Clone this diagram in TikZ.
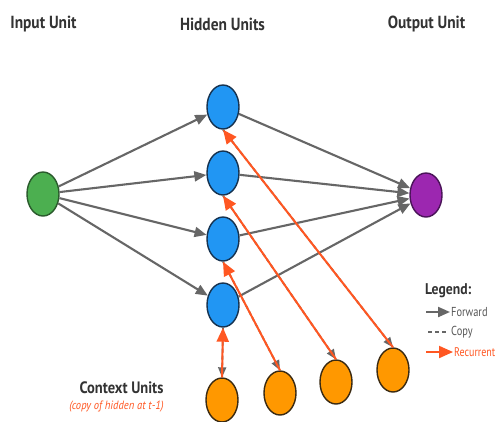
\documentclass[tikz,border=0pt]{standalone}
\usepackage{fontspec}
\setmainfont{PT Sans}[FakeStretch=0.88]
\newfontfamily\legendfont{PT Sans}[FakeStretch=0.8]
\usetikzlibrary{shapes.geometric,arrows.meta}

\definecolor{inGreen}{HTML}{4CAF50}
\definecolor{inGreenLine}{HTML}{2A5A2C}
\definecolor{hidBlue}{HTML}{2196F3}
\definecolor{hidBlueLine}{HTML}{16324F}
\definecolor{outPurple}{HTML}{9C27B0}
\definecolor{outPurpleLine}{HTML}{4A1458}
\definecolor{ctxOrange}{HTML}{FF9800}
\definecolor{ctxOrangeLine}{HTML}{3A2A12}
\definecolor{fwdGray}{HTML}{666666}
\definecolor{recOrange}{HTML}{FF5722}
\definecolor{titleInk}{HTML}{333333}

\tikzset{
  unit/.style={ellipse, line width=1.4pt, minimum width=32pt, minimum height=44pt, inner sep=0pt},
  inunit/.style={unit, fill=inGreen, draw=inGreenLine},
  hidunit/.style={unit, fill=hidBlue, draw=hidBlueLine},
  outunit/.style={unit, fill=outPurple, draw=outPurpleLine},
  ctxunit/.style={unit, fill=ctxOrange, draw=ctxOrangeLine},
  fwd/.style={draw=fwdGray, line width=2.1pt, -{Triangle[length=12pt,width=10pt]}, fill=fwdGray},
  copyline/.style={draw=fwdGray, line width=1.8pt, dash pattern=on 4pt off 3pt,
    -{Triangle[length=10pt,width=8pt]}, fill=fwdGray},
  rec/.style={draw=recOrange, line width=2pt, -{Triangle[length=14pt,width=12pt]}, fill=recOrange},
  header/.style={font=\bfseries\fontsize{17.5}{20}\selectfont, text=titleInk},
  legtext/.style={font=\legendfont\fontsize{13}{15}\selectfont, text=fwdGray!85!black, anchor=west, inner sep=0pt}
}

\begin{document}
\begin{tikzpicture}[x=1pt,y=-1pt]
  \useasboundingbox (0,0) rectangle (497,421);
  \fill[white] (0,0) rectangle (497,421);

  % column headings
  \node[header] (hIn)  at (43.5,24) {Input Unit};
  \node[header] (hHid) at (222.5,24) {Hidden Units};
  \node[header] (hOut) at (426.5,24) {Output Unit};

  % units
  \node[inunit] (x) at (43,194) {};
  \node[hidunit] (h1) at (223,107) {};
  \node[hidunit] (h2) at (223,173) {};
  \node[hidunit] (h3) at (223,239) {};
  \node[hidunit] (h4) at (223,305) {};
  \node[outunit] (y) at (426,195) {};
  \node[ctxunit] (c1) at (222,400) {};
  \node[ctxunit] (c2) at (280,393) {};
  \node[ctxunit] (c3) at (336,382) {};
  \node[ctxunit] (c4) at (393,370) {};

  % input -> hidden
  \foreach \h in {h1,h2,h3,h4} \draw[fwd] (x) -- (\h);
  % hidden -> output
  \foreach \h in {h1,h2,h3,h4} \draw[fwd] (\h) -- (y);

  % copy (hidden -> context) and recurrent (context -> hidden)
  \foreach \h/\c in {h4/c1,h3/c2,h2/c3,h1/c4} {
    \draw[copyline, xshift=-2.5pt] (\h.south) -- (\c.north);
  }
  \foreach \h/\c in {h4/c1,h3/c2,h2/c3,h1/c4} {
    \draw[rec, xshift=1.5pt] (\c.north) -- (\h.south);
  }

  % context label
  \node[font=\bfseries\fontsize{16.5}{19}\selectfont, text=titleInk] (ctxLabel) at (121.5,388) {Context Units};
  \node[font=\itshape\fontsize{12}{14}\selectfont, text=recOrange] (ctxNote) at (116.5,407) {(copy of hidden at t-1)};

  % legend
  \node[font=\bfseries\fontsize{15.5}{18}\selectfont, text=titleInk, anchor=west, inner sep=0pt] (legTitle) at (425,291) {Legend:};
  \coordinate (lf0) at (426,312); \coordinate (lf1) at (450,312);
  \coordinate (lc0) at (428,332); \coordinate (lc1) at (446,332);
  \coordinate (lr0) at (426,352); \coordinate (lr1) at (453,352);
  \draw[fwd] (lf0) -- (lf1);
  \draw[draw=fwdGray, line width=1.8pt, dash pattern=on 4pt off 3pt] (lc0) -- (lc1);
  \draw[rec] (lr0) -- (lr1);
  \node[legtext] (legF) at (451,312) {Forward};
  \node[legtext] (legC) at (451,332) {Copy};
  \node[legtext, text=recOrange, font=\legendfont\fontsize{12.5}{14}\selectfont] (legR) at (454,352) {Recurrent};
\end{tikzpicture}
\end{document}
